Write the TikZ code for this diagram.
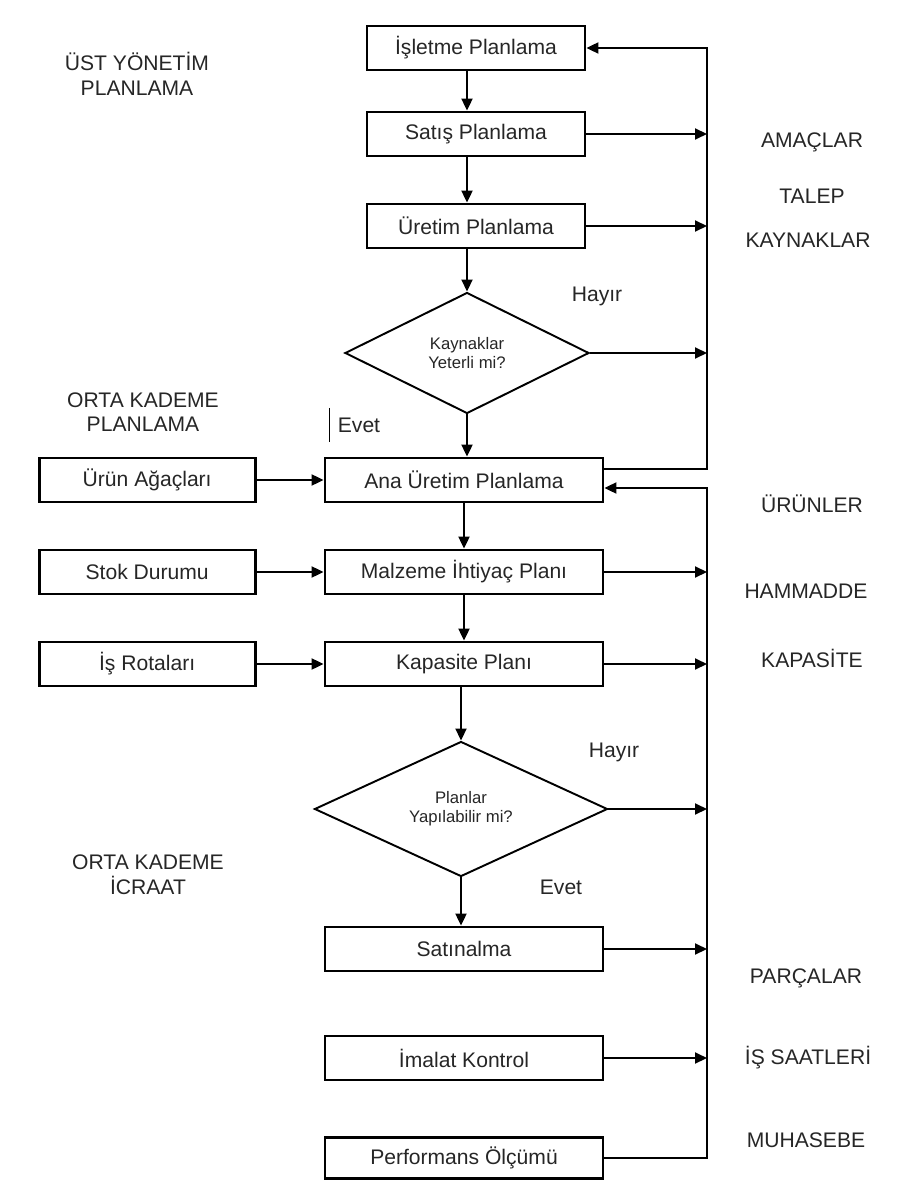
\documentclass[tikz,border=0pt]{standalone}
\usepackage{fontspec}
\setmainfont{Liberation Sans}
\usetikzlibrary{arrows.meta,positioning,shapes.geometric}

\begin{document}
\begin{tikzpicture}[x=0.2mm,y=-0.2mm,>={Triangle[length=2.4mm,width=2.2mm]},
 node distance=13.4mm,
 box/.style={draw=black,line width=1.6pt,minimum height=8.8mm,inner sep=0pt,text=black!85,font=\fontsize{12}{14}\selectfont},
 mbox/.style={box,minimum width=55.6mm},
 ubox/.style={box,minimum width=43.6mm},
 lbox/.style={box,minimum width=43.2mm},
 dec/.style={diamond,aspect=2,draw=black,line width=1.1pt,inner sep=0pt,align=center,text=black!85,font=\fontsize{9.5}{11}\selectfont},
 lab/.style={align=center,text=black!85,font=\fontsize{12}{14}\selectfont},
 arr/.style={->,line width=1.1pt}]
\useasboundingbox (0,0) rectangle (924,1187);

% main column
\node[ubox] (ip) at (476,48) {İşletme Planlama};
\node[ubox] (sp) at (476,134) {Satış Planlama};
\node[ubox] (up) at (476,226) {Üretim Planlama};
\node[dec,minimum width=48.8mm,minimum height=24.2mm] (kd) at (467,353) {Kaynaklar\\Yeterli mi?};
\node[mbox] (aup) at (464,480) {Ana Üretim Planlama};
\node[mbox] (mip) at (464,572) {Malzeme İhtiyaç Planı};
\node[mbox] (kp) at (464,664) {Kapasite Planı};
\node[dec,minimum width=58.6mm,minimum height=27mm] (pd) at (461,809) {Planlar\\Yapılabilir mi?};
\node[mbox] (sat) at (464,949) {Satınalma};
\node[mbox] (imk) at (464,1058) {İmalat Kontrol};
\node[mbox,minimum height=8.2mm] (perf) at (464,1158) {Performans Ölçümü};

% inputs on the left
\node[lbox,left=of aup] (ua) {Ürün Ağaçları};
\node[lbox,left=of mip] (sd) {Stok Durumu};
\node[lbox,left=of kp] (ir) {İş Rotaları};

% level titles
\node[lab] at (137,74) {ÜST YÖNETİM\\PLANLAMA};
\node[lab] at (143,412) {ORTA KADEME\\PLANLAMA};
\node[lab] at (148,875) {ORTA KADEME\\İCRAAT};

% answers
\node[lab] (h1) at (597,296) {Hayır};
\node[lab] (e1) at (359,425) {Evet};
\draw[line width=0.6pt] ([xshift=-1pt,yshift=2pt]e1.north west) -- ([xshift=-1pt,yshift=-2pt]e1.south west);
\node[lab] (h2) at (614,752) {Hayır};
\node[lab] (e2) at (561,887) {Evet};

% outputs on the right
\node[lab] at (812,142) {AMAÇLAR};
\node[lab] at (812,196) {TALEP};
\node[lab] at (808,240) {KAYNAKLAR};
\node[lab] at (812,504) {ÜRÜNLER};
\node[lab] at (806,591) {HAMMADDE};
\node[lab] at (812,658) {KAPASİTE};
\node[lab] at (806,978) {PARÇALAR};
\node[lab] at (808,1058) {İŞ SAATLERİ};
\node[lab] at (806,1140) {MUHASEBE};

% feedback lines
\coordinate (r1) at (707,469);
\coordinate (r2) at (707,488);
\draw[arr] (aup.east |- r1) -- (r1) |- (ip.east);
\draw[arr] (perf.east) -| (r2) -- (aup.east |- r2);

% flow down
\draw[arr] (ip.south -| kd) -- (sp.north -| kd);
\draw[arr] (sp.south -| kd) -- (up.north -| kd);
\draw[arr] (up.south -| kd) -- (kd.north);
\draw[arr] (kd.south) -- (kd.south |- aup.north);
\draw[arr] (aup) -- (mip);
\draw[arr] (mip) -- (kp);
\draw[arr] (kp.south -| pd) -- (pd.north);
\draw[arr] (pd.south) -- (pd.south |- sat.north);

% inputs
\draw[arr] (ua) -- (aup);
\draw[arr] (sd.east) -- (sd.east -| mip.west);
\draw[arr] (ir) -- (kp);

% outputs
\foreach \n in {sp,up,kd,mip,kp,pd,sat,imk}
 \draw[arr] (\n.east) -- (\n.east -| r1);
\end{tikzpicture}
\end{document}
